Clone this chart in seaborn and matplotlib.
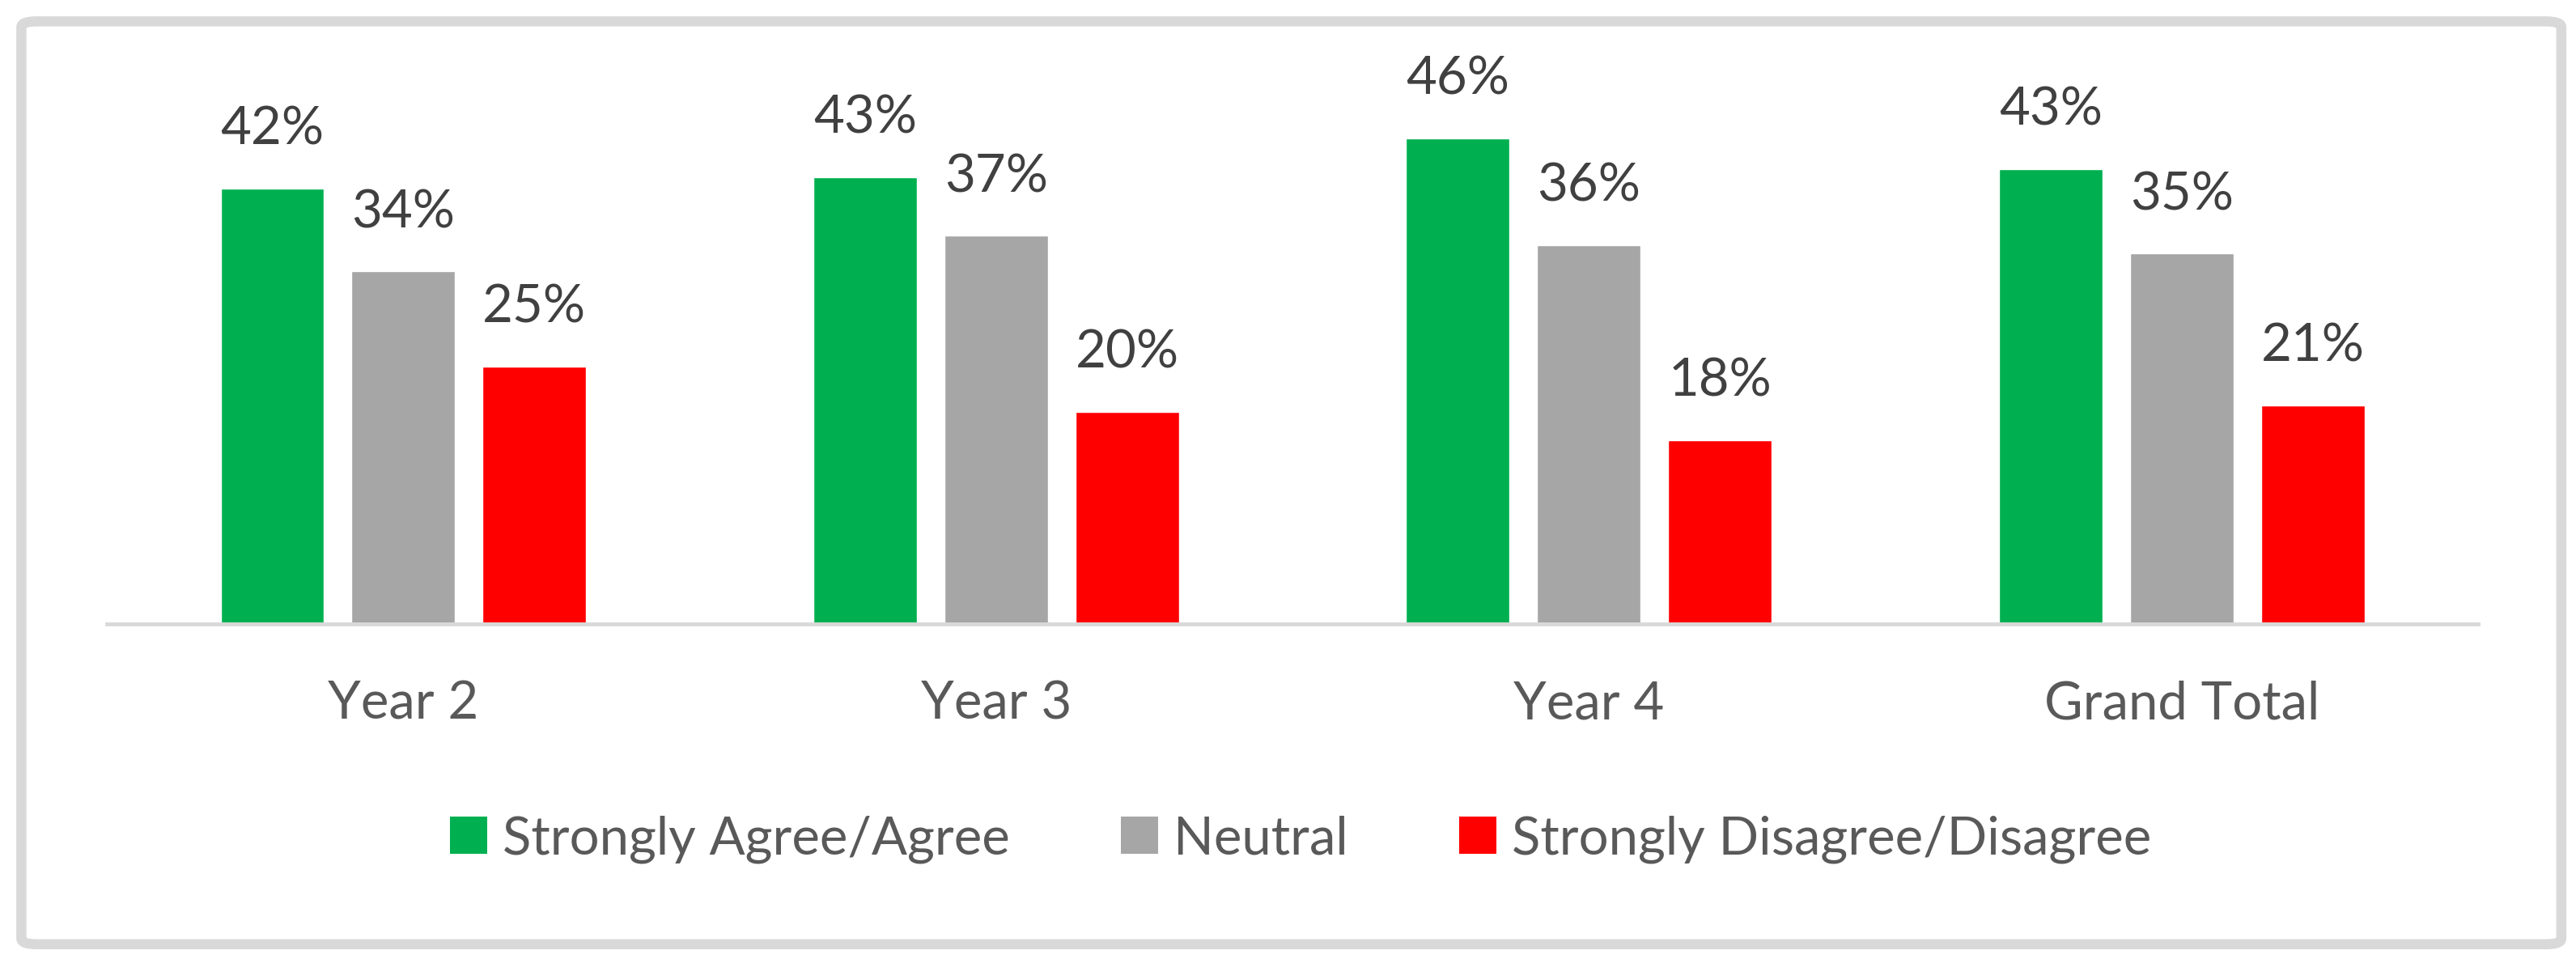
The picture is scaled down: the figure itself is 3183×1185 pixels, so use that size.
import matplotlib
matplotlib.use("Agg")
import matplotlib.pyplot as plt
import seaborn as sns
import pandas as pd
from matplotlib.patches import Patch, FancyBboxPatch

categories = ["Year 2", "Year 3", "Year 4", "Grand Total"]
series_names = ["Strongly Agree/Agree", "Neutral", "Strongly Disagree/Disagree"]
agree = [41.6, 42.7, 46.4, 43.49]
neutral = [33.7, 37.1, 36.2, 35.4]
disagree = [24.6, 20.3, 17.6, 20.9]
colors = ["#00B050", "#A6A6A6", "#FF0000"]

rows = []
for name, vals in zip(series_names, [agree, neutral, disagree]):
    for c, v in zip(categories, vals):
        rows.append({"Year": c, "Response": name, "Value": v})
df = pd.DataFrame(rows)

sns.set_style("white")
plt.rcParams["font.family"] = ["Lato", "DejaVu Sans"]

fig = plt.figure(figsize=(31.83, 11.85), dpi=100)
ax = fig.add_axes([0.0415, 0.349, 0.9205, 0.594])

sns.barplot(data=df, x="Year", y="Value", hue="Response", order=categories,
            hue_order=series_names, palette=colors, saturation=1,
            width=0.663, gap=0.21, ax=ax, legend=False, errorbar=None)

ax.set_ylim(0, 54.4)
ax.set_xlim(-0.5, len(categories) - 0.5)
ax.set_xlabel("")
ax.set_ylabel("")
ax.set_yticks([])
for s in ["top", "left", "right"]:
    ax.spines[s].set_visible(False)
ax.spines["bottom"].set_color("#D9D9D9")
ax.spines["bottom"].set_linewidth(3.5)
ax.tick_params(axis="x", length=0, pad=50, labelsize=47, labelcolor="#595959")

for container in ax.containers:
    for bar in container:
        h = bar.get_height()
        ax.annotate(f"{h:.0f}%", (bar.get_x() + bar.get_width() / 2, h),
                    xytext=(0, 39), textcoords="offset points",
                    ha="center", va="baseline", fontsize=47, color="#404040")

handles = [Patch(facecolor=c, edgecolor="none", label=n) for c, n in zip(colors, series_names)]
fig.legend(handles=handles, loc="center", bbox_to_anchor=(0.505, 0.125), ncol=3,
           frameon=False, fontsize=47, handlelength=0.7, handleheight=0.7,
           handletextpad=0.3, columnspacing=2.1, labelcolor="#595959")

border = FancyBboxPatch((0.0083, 0.0154), 0.986, 0.9623,
                        boxstyle="round,pad=0,rounding_size=0.006",
                        transform=fig.transFigure, fc="none", ec="#D9D9D9", lw=9)
fig.patches.append(border)

fig.savefig("out.png", dpi=100, facecolor="white")
